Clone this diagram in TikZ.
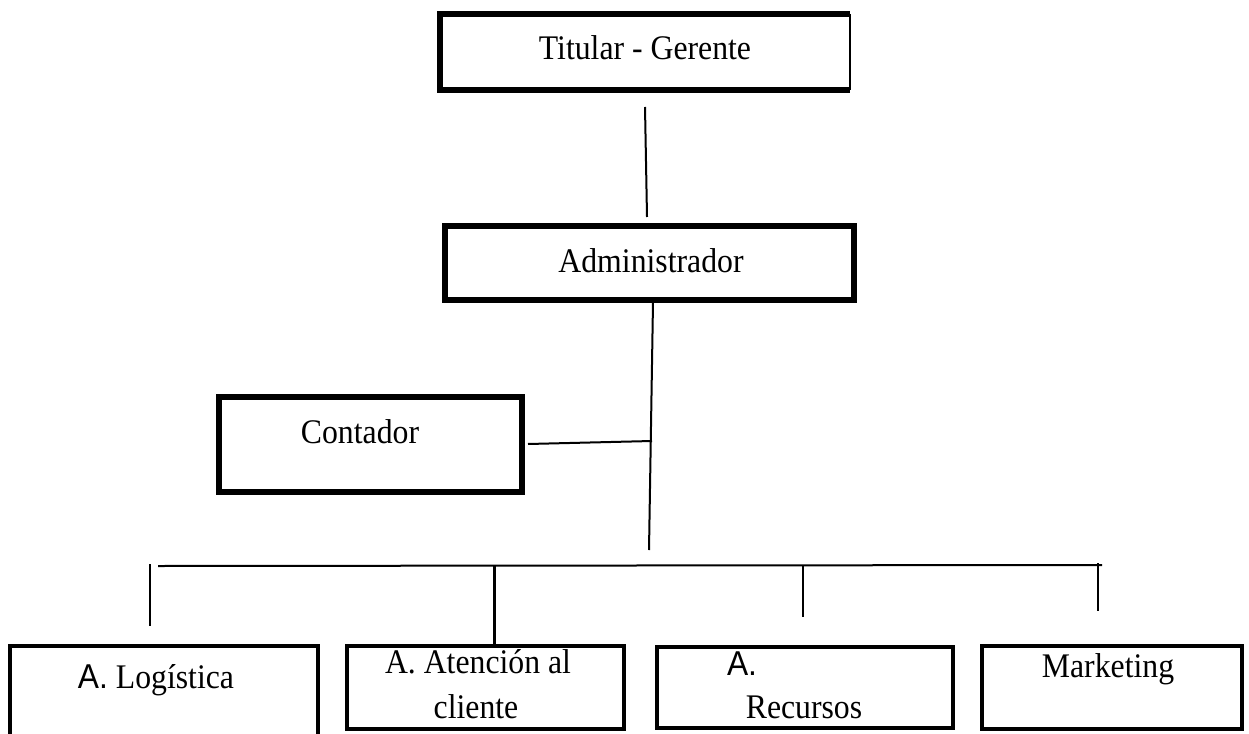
\documentclass[tikz,border=0pt]{standalone}
\usepackage{fontspec}
\setmainfont{Liberation Serif}[FakeStretch=0.92]
\newfontfamily\arialfont{Liberation Sans}[FakeStretch=0.92]
\begin{document}
\begin{tikzpicture}[x=1pt,y=-1pt,
  heavy/.style={line width=5.5pt},
  light/.style={line width=3.6pt},
  conn/.style={line width=2pt},
  frame/.style={inner sep=0pt, outer sep=0pt},
  lbl/.style={anchor=base, inner sep=0pt, font=\fontsize{34.5}{40}\selectfont}]
\useasboundingbox (0,0) rectangle (1249,733);
\fill[white] (0,0) rectangle (1249,733);
\begin{scope}
\clip (0,0) rectangle (1249,733);
% frames
\node[frame, minimum width=410pt, minimum height=76pt] (top) at (645,52) {};
\draw[heavy] (top.north east) -- (top.north west) -- (top.south west) -- (top.south east);
\draw[line width=2.4pt] (top.north east) -- (top.south east);
\node[frame, heavy, draw, minimum width=409pt, minimum height=74pt] (admin) at (649.5,263) {};
\node[frame, heavy, draw, minimum width=303pt, minimum height=95pt] (cont) at (370.5,444.5) {};
\node[frame, minimum width=308pt, minimum height=100pt] (logi) at (164,696) {};
\draw[light] (logi.south west) -- (logi.north west) -- (logi.north east) -- (logi.south east);
\node[frame, light, draw, minimum width=277pt, minimum height=83pt] (aten) at (485.5,687.5) {};
\node[frame, light, draw, minimum width=296pt, minimum height=81pt] (recu) at (805,687.5) {};
\node[frame, light, draw, minimum width=260pt, minimum height=83pt] (mark) at (1112,687.5) {};
\end{scope}
% labels
\node[lbl] (ttop) at (645,60) {Titular - Gerente};
\node[lbl] (tadmin) at (651,272) {Administrador};
\node[lbl] (tcont) at (360,443) {Contador};
\node[lbl] (tlogi) at (156,688) {{\arialfont A.} Logística};
\node[lbl] (taten1) at (478,673) {A. Atención al};
\node[lbl] (taten2) at (476,718) {cliente};
\node[lbl] (trecA) at (742,675) {\arialfont A.};
\node[lbl] (trecu) at (804,718) {Recursos};
\node[lbl] (tmark) at (1108,677) {Marketing};
% connector points
\coordinate (a1) at (645,107);
\coordinate (a2) at (647,217);
\coordinate (b1) at (653,302);
\coordinate (b2) at (649,550);
\coordinate (c1) at (528,444);
\coordinate (c2) at (652,441);
\coordinate (busL) at (158,566);
\coordinate (busR) at (1102,565);
\coordinate (s1t) at (150,564);
\coordinate (s1b) at (150,626);
\coordinate (s2t) at (494,565);
\coordinate (s3t) at (803,565);
\coordinate (s3b) at (803,617);
\coordinate (s4t) at (1098,563);
\coordinate (s4b) at (1098,611);
% connectors
\draw[conn] (a1) -- (a2);
\draw[conn] (b1) -- (b2);
\draw[conn] (c1) -- (c2);
\draw[conn] (busL) -- (busR);
\draw[conn] (s1t) -- (s1b);
\draw[line width=3pt] (s2t) -- (aten.north -| s2t);
\draw[conn] (s3t) -- (s3b);
\draw[conn] (s4t) -- (s4b);
\end{tikzpicture}
\end{document}
